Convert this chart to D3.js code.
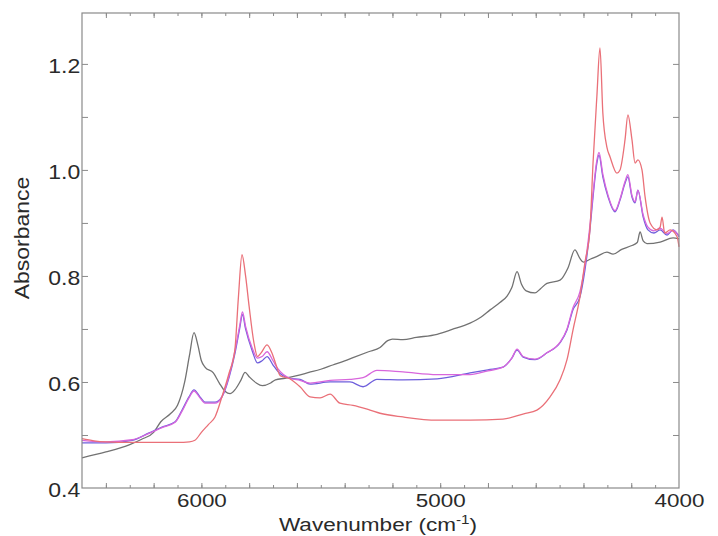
<!DOCTYPE html>
<html>
<head>
<meta charset="utf-8">
<script src="https://cdn.jsdelivr.net/npm/d3@7"></script>
<style>
  body { margin: 0; background: #fff; }
  svg { display: block; font-family: 'Liberation Sans', Arial, sans-serif; }
</style>
</head>
<body>
<svg id="chart" width="718" height="536"></svg>
<script>
// wavenumber (cm-1) / absorbance
const grayWn  = [6500,6400,6300,6250,6200,6170,6130,6100,6070,6050,6031,6015,6000,5985,5950,5925,5900,5880,5860,5835,5817,5800,5770,5745,5710,5690,5650,5600,5550,5500,5450,5400,5365,5300,5252,5220,5200,5156,5100,5013,4950,4875,4830,4791,4750,4720,4700,4678,4660,4640,4603,4580,4553,4498,4465,4436,4415,4400,4370,4343,4302,4276,4240,4200,4175,4163,4150,4134,4079,4025,4000];
const grayAbs = [0.457,0.468,0.482,0.492,0.505,0.525,0.540,0.556,0.600,0.650,0.693,0.670,0.640,0.628,0.617,0.598,0.582,0.578,0.585,0.603,0.618,0.610,0.598,0.593,0.598,0.604,0.607,0.612,0.618,0.624,0.632,0.640,0.646,0.657,0.665,0.678,0.681,0.680,0.684,0.690,0.699,0.711,0.722,0.736,0.750,0.762,0.778,0.808,0.785,0.772,0.768,0.776,0.786,0.792,0.815,0.849,0.833,0.826,0.832,0.837,0.845,0.841,0.850,0.857,0.863,0.883,0.866,0.861,0.864,0.872,0.870];

const redWn  = [6500,6450,6400,6300,6200,6100,6050,6027,6000,5970,5943,5914,5884,5860,5845,5830,5815,5800,5780,5765,5750,5725,5705,5690,5670,5630,5587,5545,5503,5461,5420,5365,5294,5252,5156,5013,4875,4737,4650,4595,4540,4498,4469,4444,4415,4394,4373,4360,4344,4331,4319,4302,4289,4260,4247,4226,4214,4197,4184,4172,4155,4142,4121,4092,4079,4071,4060,4037,4008,4000];
const redAbs = [0.493,0.489,0.487,0.486,0.486,0.486,0.487,0.490,0.505,0.520,0.534,0.572,0.617,0.660,0.760,0.840,0.800,0.742,0.674,0.648,0.655,0.670,0.655,0.636,0.612,0.606,0.591,0.572,0.570,0.577,0.560,0.556,0.547,0.541,0.534,0.528,0.528,0.530,0.540,0.547,0.572,0.604,0.642,0.698,0.760,0.825,0.887,1.013,1.138,1.230,1.108,1.043,1.025,0.994,1.000,1.057,1.104,1.057,1.013,1.019,1.000,0.949,0.900,0.887,0.892,0.911,0.881,0.887,0.874,0.855];

const blueWn  = [6500,6400,6290,6219,6165,6110,6081,6052,6031,6006,5985,5943,5914,5884,5859,5840,5828,5815,5788,5765,5746,5725,5700,5680,5630,5587,5545,5461,5378,5323,5265,5156,5013,4875,4800,4737,4700,4678,4653,4603,4553,4498,4469,4444,4415,4394,4373,4360,4344,4335,4319,4297,4268,4247,4226,4214,4197,4184,4172,4150,4130,4105,4079,4050,4025,4000];
const blueAbs = [0.485,0.485,0.490,0.504,0.515,0.525,0.547,0.572,0.585,0.572,0.562,0.562,0.572,0.609,0.655,0.700,0.727,0.700,0.660,0.636,0.640,0.648,0.632,0.620,0.607,0.605,0.596,0.600,0.600,0.591,0.605,0.604,0.606,0.617,0.623,0.628,0.645,0.660,0.647,0.642,0.655,0.674,0.698,0.736,0.760,0.811,0.887,0.949,1.013,1.028,0.987,0.949,0.921,0.943,0.975,0.987,0.949,0.938,0.962,0.911,0.887,0.881,0.887,0.877,0.887,0.874];

const magWn  = blueWn;
const magAbs = [0.490,0.487,0.491,0.503,0.514,0.524,0.545,0.570,0.583,0.570,0.560,0.560,0.572,0.612,0.660,0.705,0.732,0.705,0.665,0.645,0.648,0.657,0.640,0.625,0.607,0.603,0.598,0.603,0.605,0.608,0.622,0.619,0.614,0.614,0.621,0.628,0.645,0.662,0.648,0.643,0.655,0.675,0.700,0.740,0.770,0.820,0.895,0.955,1.018,1.033,0.992,0.952,0.923,0.945,0.978,0.991,0.952,0.940,0.962,0.915,0.892,0.885,0.890,0.880,0.886,0.876];

const xLabels = [6000, 5000, 4000];
const yLabels = [0.4, 0.6, 0.8, 1.0, 1.2];

const series = [
  { wn: grayWn, abs: grayAbs, color: '#727272' },
  { wn: blueWn, abs: blueAbs, color: '#6f5fdc' },
  { wn: magWn,  abs: magAbs,  color: '#d866dc' },
  { wn: redWn,  abs: redAbs,  color: '#ea7078' }
];

const margin = { top: 13, right: 39, bottom: 48, left: 82 };
const width = 718 - margin.left - margin.right;
const height = 536 - margin.top - margin.bottom;
const stretch = 1.18;
const axisColor = '#8a8a8a';

const svg = d3.select('#chart');
const g = svg.append('g').attr('transform', `translate(${margin.left},${margin.top})`);

const x = d3.scaleLinear().domain([6500, 4000]).range([0, width]);
const y = d3.scaleLinear().domain([0.4, 1.296]).range([height, 0]);

// curves
const line = d3.line()
  .x((d) => x(d[0]))
  .y((d) => y(d[1]))
  .curve(d3.curveMonotoneX);

series.forEach((s) => {
  g.append('path')
    .datum(s.wn.map((w, i) => [w, s.abs[i]]))
    .attr('fill', 'none')
    .attr('stroke', s.color)
    .attr('stroke-width', 1.3)
    .attr('stroke-linejoin', 'round')
    .attr('d', line);
});

// frame
g.append('rect')
  .attr('width', width)
  .attr('height', height)
  .attr('fill', 'none')
  .attr('stroke', axisColor)
  .attr('stroke-width', 1.2);

const minorX = d3.range(6400, 4000, -100);
const midX = d3.range(6400, 4000, -200);
const minorY = d3.range(0.5, 1.3, 0.1);

function tickAxis(axis, tr) {
  const a = g.append('g').attr('transform', tr).call(axis);
  a.select('.domain').remove();
  a.selectAll('line').attr('stroke', axisColor);
  a.selectAll('text').remove();
  return a;
}

// inward ticks on all four sides
tickAxis(d3.axisBottom(x).tickValues(minorX).tickSize(-3), `translate(0,${height})`);
tickAxis(d3.axisBottom(x).tickValues(midX).tickSize(-5), `translate(0,${height})`);
tickAxis(d3.axisTop(x).tickValues(minorX).tickSize(-3), 'translate(0,0)');
tickAxis(d3.axisTop(x).tickValues(midX).tickSize(-5), 'translate(0,0)');
tickAxis(d3.axisLeft(y).tickValues(minorY).tickSize(-6), 'translate(0,0)');
tickAxis(d3.axisRight(y).tickValues(minorY).tickSize(-6), `translate(${width},0)`);

// tick labels
const xAx = g.append('g')
  .attr('transform', `translate(0,${height})`)
  .call(d3.axisBottom(x).tickValues(xLabels).tickSize(0).tickFormat(d3.format('d')));
xAx.select('.domain').remove();
xAx.selectAll('text')
  .attr('y', 19)
  .attr('dy', 0)
  .attr('fill', '#2a2a2a')
  .style('font-size', '19px')
  .style('font-family', "'Liberation Sans', Arial, sans-serif")
  .attr('transform', `scale(${stretch},1)`);

const yAx = g.append('g')
  .call(d3.axisLeft(y).tickValues(yLabels).tickSize(0).tickFormat(d3.format('.1f')));
yAx.select('.domain').remove();
yAx.selectAll('text')
  .attr('x', -1.5)
  .attr('dy', 8.5)
  .attr('fill', '#2a2a2a')
  .style('font-size', '19.5px')
  .style('font-family', "'Liberation Sans', Arial, sans-serif")
  .attr('transform', `scale(${stretch},1)`);

// axis titles
svg.append('text')
  .attr('transform', `translate(29,238) rotate(-90) scale(${stretch},1)`)
  .attr('text-anchor', 'middle')
  .attr('fill', '#2a2a2a')
  .style('font-size', '19.5px')
  .text('Absorbance');

const xt = svg.append('text')
  .attr('transform', `translate(378,531) scale(1.22,1)`)
  .attr('text-anchor', 'middle')
  .attr('fill', '#2a2a2a')
  .style('font-size', '18.5px');
xt.append('tspan').text('Wavenumber (cm');
xt.append('tspan').attr('dy', -7).style('font-size', '12.5px').text('-1');
xt.append('tspan').attr('dy', 7).text(')');
</script>
</body>
</html>
